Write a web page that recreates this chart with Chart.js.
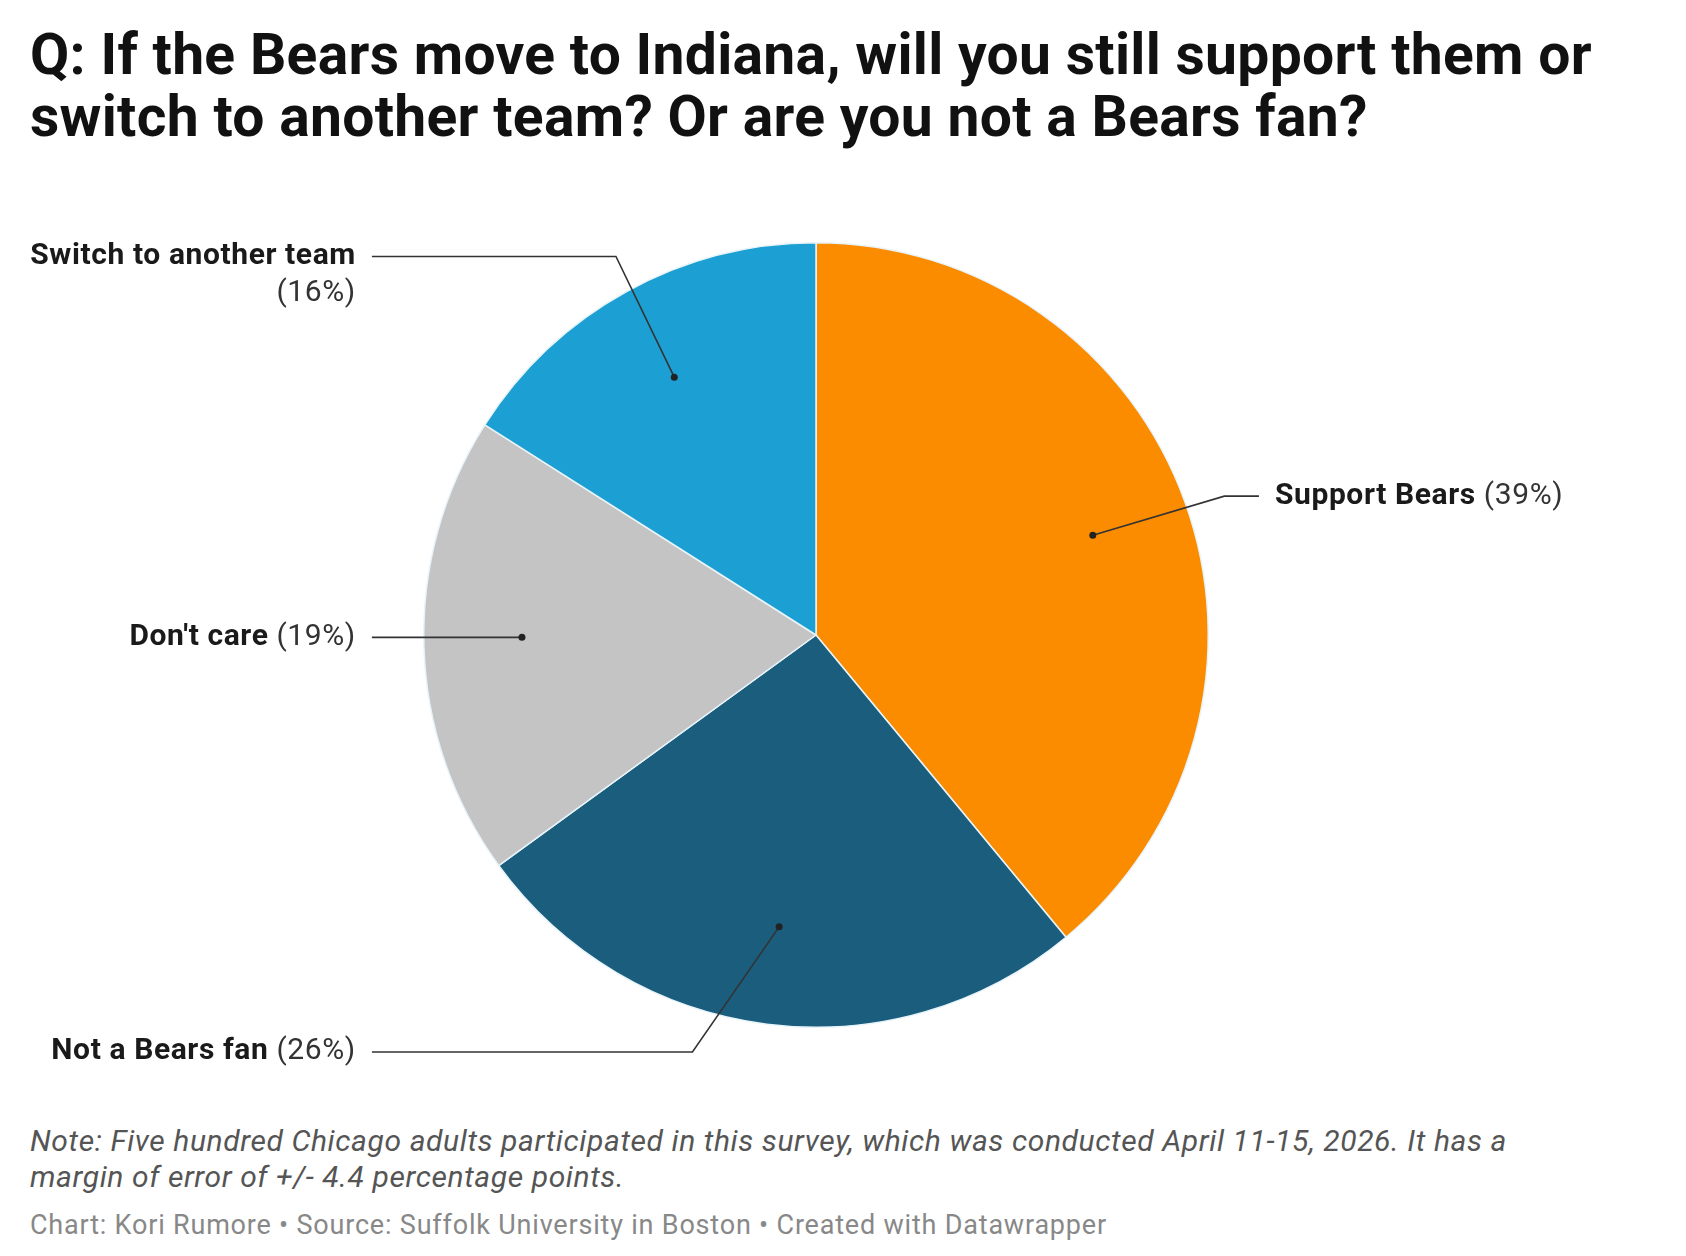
<!DOCTYPE html>
<html>
<head>
<meta charset="utf-8">
<script src="https://cdn.jsdelivr.net/npm/chart.js@4.4.1/dist/chart.umd.min.js"></script>
<style>
  html, body { margin: 0; padding: 0; background: #fff; }
  body { width: 1686px; height: 1256px; position: relative; font-family: Roboto, "Noto Sans", sans-serif; overflow: hidden; }
  #title { position: absolute; left: 30px; top: 24px; width: 1650px; font-weight: 700; font-size: 57px; line-height: 62px; color: #111; letter-spacing: 0.3px; white-space: nowrap; }
  #wrap { position: absolute; left: 0; top: 200px; width: 1686px; height: 900px; }
  #note { position: absolute; left: 30px; top: 1123px; width: 1640px; font-style: italic; font-size: 30px; line-height: 36px; color: #555; letter-spacing: 0.6px; white-space: nowrap; }
  #credit { position: absolute; left: 30px; top: 1209px; font-size: 27px; line-height: 32px; color: #888; letter-spacing: 0.8px; white-space: nowrap; }
</style>
</head>
<body>
<div id="title">Q: If the Bears move to Indiana, will you still support them or<br>switch to another team? Or are you not a Bears fan?</div>
<div id="wrap"><canvas id="c"></canvas></div>
<div id="note">Note: Five hundred Chicago adults participated in this survey, which was conducted April 11-15, 2026. It has a<br>margin of error of +/- 4.4 percentage points.</div>
<div id="credit">Chart: Kori Rumore • Source: Suffolk University in Boston • Created with Datawrapper</div>
<script>
const categories = ["Support Bears", "Not a Bears fan", "Don't care", "Switch to another team"];
const values = [39, 26, 19, 16];
const colors = ["#fb8c00", "#1a5d7d", "#c4c4c4", "#1c9fd2"];

// label placement relative to pie centre / radius
const labelLayout = [
  { side: "right", tx: 1.170, ty: -0.354, elbow: 1.041 },
  { side: "left",  tx: -1.173, ty: 1.063, elbow: -0.315 },
  { side: "left",  tx: -1.173, ty: 0.006, elbow: null },
  { side: "left",  tx: -1.173, ty: -0.965, elbow: -0.510 }
];

const leaderPlugin = {
  id: "leaders",
  afterDatasetsDraw(chart) {
    const ctx = chart.ctx;
    const meta = chart.getDatasetMeta(0);
    meta.data.forEach((arc, i) => {
      const p = arc.getProps(["x", "y", "startAngle", "endAngle", "outerRadius"], true);
      const R = p.outerRadius;
      const mid = (p.startAngle + p.endAngle) / 2;
      const L = labelLayout[i];
      const ly = p.y + L.ty * R;
      let dx = p.x + Math.cos(mid) * R * 0.75;
      let dy = p.y + Math.sin(mid) * R * 0.75;
      if (L.elbow === null) { dy = ly; }
      const textX = p.x + L.tx * R;
      const lineStart = L.side === "left" ? textX + 16 : textX - 16;
      ctx.save();
      ctx.strokeStyle = "#333";
      ctx.lineWidth = 1.6;
      ctx.beginPath();
      ctx.moveTo(lineStart, ly);
      if (L.elbow !== null) {
        ctx.lineTo(p.x + L.elbow * R, ly);
      }
      ctx.lineTo(dx, dy);
      ctx.stroke();
      ctx.fillStyle = "#222";
      ctx.beginPath();
      ctx.arc(dx, dy, 3.5, 0, Math.PI * 2);
      ctx.fill();
      // text
      const name = categories[i];
      const pct = "(" + values[i] + "%)";
      const boldFont = "700 30px Roboto";
      const normFont = "400 30px Roboto";
      ctx.letterSpacing = "0.6px";
      ctx.textBaseline = "middle";
      if (i === 3) {
        ctx.textAlign = "right";
        ctx.font = boldFont;
        ctx.fillStyle = "#1a1a1a";
        ctx.fillText(name, textX, ly);
        ctx.font = normFont;
        ctx.fillStyle = "#333";
        ctx.fillText(pct, textX, ly + 37);
      } else {
        ctx.font = boldFont;
        const wName = ctx.measureText(name + " ").width;
        ctx.font = normFont;
        const wPct = ctx.measureText(pct).width;
        const x0 = L.side === "left" ? textX - wName - wPct : textX;
        ctx.textAlign = "left";
        ctx.font = boldFont;
        ctx.fillStyle = "#1a1a1a";
        ctx.fillText(name, x0, ly);
        ctx.font = normFont;
        ctx.fillStyle = "#333";
        ctx.fillText(pct, x0 + wName, ly);
      }
      ctx.restore();
    });
  }
};

new Chart(document.getElementById("c"), {
  type: "pie",
  data: {
    labels: categories,
    datasets: [{
      data: values,
      backgroundColor: colors,
      borderColor: "#e8f4fa",
      borderWidth: 1.5
    }]
  },
  options: {
    responsive: true,
    maintainAspectRatio: false,
    animation: false,
    layout: { padding: { top: 42, bottom: 72, left: 0, right: 54 } },
    plugins: { legend: { display: false }, tooltip: { enabled: false } }
  },
  plugins: [leaderPlugin]
});
</script>
</body>
</html>
